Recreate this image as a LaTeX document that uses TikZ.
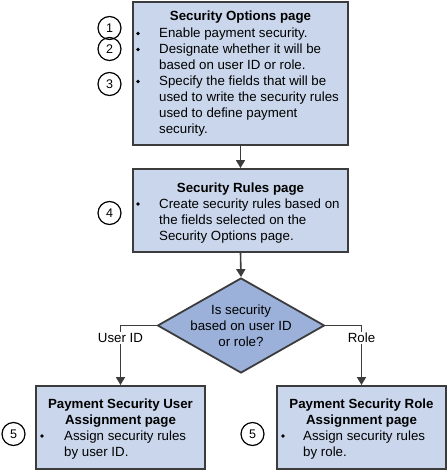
\documentclass[tikz,border=0pt]{standalone}
\usepackage{fontspec}
\setmainfont{Liberation Sans}
\usetikzlibrary{arrows.meta,shapes.geometric}
\definecolor{boxfill}{RGB}{201,214,235}
\definecolor{diafill}{RGB}{155,177,218}
\definecolor{edgegray}{RGB}{60,60,60}
\tikzset{
 pagebox/.style={draw=edgegray, line width=1.9pt, fill=boxfill, rectangle, inner sep=0pt},
 dia/.style={diamond, draw=edgegray, line width=1.8pt, fill=diafill, inner sep=0pt},
 txt/.style={font=\fontsize{13.3}{16}\selectfont, inner sep=0pt, anchor=base west},
 ctxt/.style={font=\fontsize{13.3}{16}\selectfont, inner sep=0pt, anchor=base},
 ttl/.style={font=\fontsize{13.3}{16}\selectfont\bfseries, inner sep=0pt, anchor=base},
 num/.style={circle, draw=black, line width=1.2pt, minimum size=23pt, inner sep=0pt, font=\fontsize{12.5}{14}\selectfont},
 flow/.style={draw=edgegray, line width=1.6pt, -{Triangle[length=8pt,width=9pt]}},
 lbl/.style={fill=white, inner sep=1pt, font=\fontsize{13.3}{16}\selectfont},
 bul/.style={circle, fill=black, inner sep=0pt, minimum size=3.6pt},
}
\begin{document}
\begin{tikzpicture}[x=1pt,y=-1pt]
\useasboundingbox (0,0) rectangle (447,471);
% boxes
\node[pagebox, minimum width=215pt, minimum height=143pt] (b1) at (240.5,73.5) {};
\node[pagebox, minimum width=215pt, minimum height=83pt] (b2) at (240.5,210.5) {};
\node[dia, minimum width=167pt, minimum height=95pt] (d) at (241,325.5) {};
\node[pagebox, minimum width=169pt, minimum height=83pt] (b3) at (120.5,427.5) {};
\node[pagebox, minimum width=169pt, minimum height=83pt] (b4) at (361.5,427.5) {};
% box 1 text
\node[ttl] (t1) at (240.5,20.5) {Security Options page};
\node[bul] (u1a) at (138,33.5) {};
\node[txt] (l1a) at (159,37.5) {Enable payment security.};
\node[bul] (u1b) at (138,49.5) {};
\node[txt] (l1b) at (159,53.5) {Designate whether it will be};
\node[txt] (l1c) at (159,69.5) {based on user ID or role.};
\node[bul] (u1c) at (138,81.5) {};
\node[txt] (l1d) at (159,85.5) {Specify the fields that will be};
\node[txt] (l1e) at (159,101.5) {used to write the security rules};
\node[txt] (l1f) at (159,117.5) {used to define payment};
\node[txt] (l1g) at (159,133.5) {security.};
% box 2 text
\node[ttl] (t2) at (240.5,192) {Security Rules page};
\node[bul] (u2a) at (138,204) {};
\node[txt] (l2a) at (159,208) {Create security rules based on};
\node[txt] (l2b) at (159,224) {the fields selected on the};
\node[txt] (l2c) at (159,240) {Security Options page.};
% diamond text
\node[ctxt] (dt1) at (241,314) {Is security};
\node[ctxt] (dt2) at (241,330) {based on user ID};
\node[ctxt] (dt3) at (241,346) {or role?};
% box 3 text
\node[ttl] (t3a) at (120.5,408) {Payment Security User};
\node[ttl] (t3b) at (120.5,424) {Assignment page};
\node[bul] (u3) at (42,436) {};
\node[txt] (l3a) at (64,440) {Assign security rules};
\node[txt] (l3b) at (64,456) {by user ID.};
% box 4 text
\node[ttl] (t4a) at (361.5,408) {Payment Security Role};
\node[ttl] (t4b) at (361.5,424) {Assignment page};
\node[bul] (u4) at (283,436) {};
\node[txt] (l4a) at (303,440) {Assign security rules};
\node[txt] (l4b) at (303,456) {by role.};
% step numbers
\node[num] (n1) at (109.5,28) {1};
\node[num] (n2) at (109.5,49) {2};
\node[num] (n3) at (109.5,84) {3};
\node[num] (n4) at (109.5,213) {4};
\node[num] (n5a) at (13.5,434) {5};
\node[num] (n5b) at (252.5,434) {5};
% connectors
\draw[flow] (b1.south) -- (b2.north);
\draw[flow] (b2.south) -- (d.north);
\draw[flow] (d.west) -| (b3.north);
\draw[flow] (d.east) -| (b4.north);
\node[lbl] (ly) at (120.5,338) {User ID};
\node[lbl] (lr) at (361.5,338) {Role};
\end{tikzpicture}
\end{document}
